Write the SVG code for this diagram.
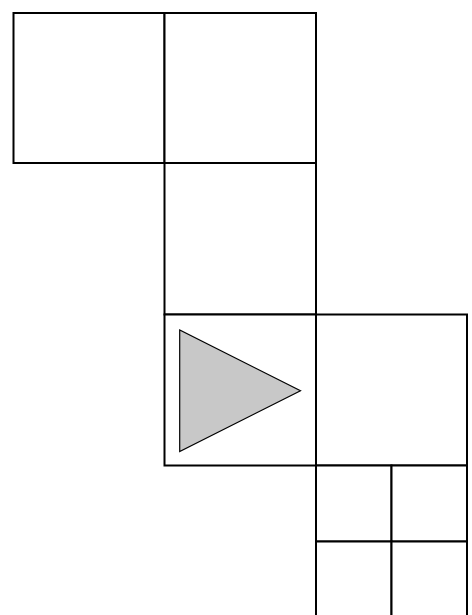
<svg xmlns="http://www.w3.org/2000/svg" width="472" height="615" viewBox="0 0 472 615">
<style>
.cell{fill:#ffffff;stroke:#000000;stroke-width:2}
.tri{fill:#c8c8c8;stroke:#000000;stroke-width:1.2;stroke-linejoin:miter}
</style>
<rect x="0" y="0" width="472" height="615" fill="#ffffff"/>
<g id="cell-a"><rect class="cell" x="13.5" y="13" width="151" height="150"/></g>
<g id="cell-b"><rect class="cell" x="164.5" y="13" width="151.5" height="150"/></g>
<g id="cell-c"><rect class="cell" x="164.5" y="163" width="151.5" height="151.5"/></g>
<g id="cell-d"><rect class="cell" x="164.5" y="314.5" width="151.5" height="151"/>
<polygon class="tri" points="179.7,330 179.7,451.5 300.5,390.8"/></g>
<g id="cell-e"><rect class="cell" x="316" y="314.5" width="151" height="151"/></g>
<g id="cell-f"><rect class="cell" x="316" y="465.5" width="75.5" height="76"/></g>
<g id="cell-g"><rect class="cell" x="391.5" y="465.5" width="75.5" height="76"/></g>
<g id="cell-h"><rect class="cell" x="316" y="541.5" width="75.5" height="76"/></g>
<g id="cell-i"><rect class="cell" x="391.5" y="541.5" width="75.5" height="76"/></g>
<g id="connectors"></g>
</svg>
